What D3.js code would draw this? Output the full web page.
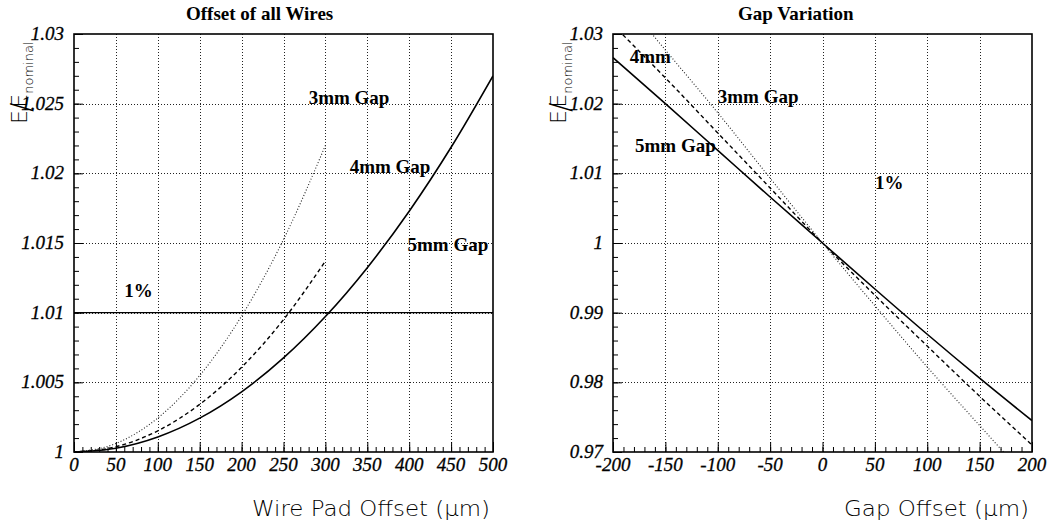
<!DOCTYPE html>
<html>
<head>
<meta charset="utf-8">
<script src="https://cdn.jsdelivr.net/npm/d3@7"></script>
<style>
  html, body { margin: 0; padding: 0; background: #fff; }
  svg { display: block; }
</style>
</head>
<body>
<svg id="chart" width="1049" height="525"></svg>
<script>
// ---- Left panel: field ratio vs. wire pad offset ----
const wireOffset = [0, 50, 100, 150, 200, 250, 300, 350, 400, 450, 500];
const wire5mm = [1.0000, 1.00027, 1.00108, 1.00243, 1.00432, 1.00675, 1.00972, 1.01323, 1.01728, 1.02187, 1.02700];
const wireOffsetShort = [0, 50, 100, 150, 200, 250, 300];
const wire4mm = [1.0000, 1.00038, 1.00152, 1.00342, 1.00608, 1.00950, 1.01370];
const wire3mm = [1.0000, 1.00061, 1.00244, 1.00549, 1.00976, 1.01525, 1.02200];
const onePercent = 1.01;

const leftXTicks = [0, 50, 100, 150, 200, 250, 300, 350, 400, 450, 500];
const leftYTicks = [1, 1.005, 1.01, 1.015, 1.02, 1.025, 1.03];
const leftYTickLabels = ["1", "1.005", "1.01", "1.015", "1.02", "1.025", "1.03"];

// ---- Right panel: field ratio vs. gap offset ----
const gapOffset = [-200, -150, -100, -50, 0, 50, 100, 150, 200];
const gap5mm = [1.0266, 1.0200, 1.0133, 1.0066, 1.0000, 0.9934, 0.9869, 0.9806, 0.9745];
const gap4mm = [1.0313, 1.0237, 1.0158, 1.0079, 1.0000, 0.9925, 0.9852, 0.9780, 0.9710];
const gap3mm = [1.0367, 1.0277, 1.0187, 1.0093, 1.0000, 0.9910, 0.9822, 0.9738, 0.9655];

const rightXTicks = [-200, -150, -100, -50, 0, 50, 100, 150, 200];
const rightYTicks = [0.97, 0.98, 0.99, 1, 1.01, 1.02, 1.03];
const rightYTickLabels = ["0.97", "0.98", "0.99", "1", "1.01", "1.02", "1.03"];

const SERIF = "Liberation Serif, Times New Roman, Times, serif";
const SANS = "DejaVu Sans, Liberation Sans, sans-serif";

const svg = d3.select("#chart");

const styles = {
  solid: { width: 1.6, dash: null, color: "#000" },
  dashed: { width: 1.4, dash: "4,3", color: "#000" },
  dotted: { width: 1.1, dash: "1,2", color: "#222" }
};

function serifText(sel, opts) {
  return sel
    .attr("font-family", SERIF)
    .attr("font-weight", opts.bold ? "bold" : "normal")
    .attr("font-style", opts.italic ? "italic" : "normal")
    .attr("font-size", opts.size)
    .attr("fill", "#000");
}

function panel(opts) {
  const g = svg.append("g");
  const x = d3.scaleLinear().domain(opts.xDomain).range([opts.left, opts.right]);
  const y = d3.scaleLinear().domain(opts.yDomain).range([opts.bottom, opts.top]);

  const clipId = "clip-" + opts.id;
  g.append("clipPath").attr("id", clipId)
    .append("rect")
    .attr("x", opts.left).attr("y", opts.top)
    .attr("width", opts.right - opts.left).attr("height", opts.bottom - opts.top);

  // dotted grid at major ticks
  const grid = g.append("g").attr("stroke", "#222").attr("stroke-width", 1).attr("stroke-dasharray", "1,2");
  grid.selectAll("line.gx").data(opts.xTicks.slice(1, -1)).join("line")
    .attr("x1", d => Math.round(x(d)) + 0.5).attr("x2", d => Math.round(x(d)) + 0.5)
    .attr("y1", opts.top).attr("y2", opts.bottom);
  grid.selectAll("line.gy").data(opts.yTicks.slice(1, -1)).join("line")
    .attr("y1", d => Math.round(y(d)) + 0.5).attr("y2", d => Math.round(y(d)) + 0.5)
    .attr("x1", opts.left).attr("x2", opts.right);

  // bottom axis, ticks pointing inward (labels drawn separately)
  const xMinor = d3.range(opts.xDomain[0], opts.xDomain[1] + 1e-9, (opts.xTicks[1] - opts.xTicks[0]) / 5);
  const noLabel = () => "";
  g.append("g").attr("transform", `translate(0,${opts.bottom})`)
    .call(d3.axisTop(x).tickValues(xMinor).tickSize(5).tickFormat(noLabel))
    .call(s => s.select(".domain").remove());
  g.append("g").attr("transform", `translate(0,${opts.bottom})`)
    .call(d3.axisTop(x).tickValues(opts.xTicks).tickSize(10).tickFormat(noLabel))
    .call(s => s.select(".domain").remove());

  // left axis, ticks pointing inward
  const yStep = (opts.yTicks[1] - opts.yTicks[0]) / 5;
  const yMinor = d3.range(0, 31).map(i => opts.yDomain[0] + i * yStep).filter(v => v <= opts.yDomain[1] + 1e-9);
  g.append("g").attr("transform", `translate(${opts.left},0)`)
    .call(d3.axisRight(y).tickValues(yMinor).tickSize(5).tickFormat(noLabel))
    .call(s => s.select(".domain").remove());
  g.append("g").attr("transform", `translate(${opts.left},0)`)
    .call(d3.axisRight(y).tickValues(opts.yTicks).tickSize(9).tickFormat(noLabel))
    .call(s => s.select(".domain").remove());

  // tick labels, italic serif
  const labels = g.append("g").attr("stroke", "#000").attr("stroke-width", 0.3);
  labels.selectAll("text").data(opts.xTicks).join("text")
    .attr("x", d => x(d)).attr("y", opts.bottom + 19)
    .attr("text-anchor", "middle")
    .call(serifText, { italic: true, size: 19 })
    .text(d => String(d));
  const ylabels = g.append("g").attr("stroke", "#000").attr("stroke-width", 0.3);
  ylabels.selectAll("text").data(opts.yTicks).join("text")
    .attr("x", opts.left - 10).attr("y", d => y(d) + 6)
    .attr("text-anchor", "end")
    .call(serifText, { italic: true, size: 19 })
    .text((d, i) => opts.yTickLabels[i]);

  // curves
  const plot = g.append("g").attr("clip-path", `url(#${clipId})`);
  opts.series.forEach(s => {
    const st = styles[s.style];
    const line = d3.line().x(d => x(d[0])).y(d => y(d[1])).curve(d3.curveMonotoneX);
    plot.append("path")
      .attr("d", line(d3.zip(s.xs, s.ys)))
      .attr("fill", "none")
      .attr("stroke", st.color)
      .attr("stroke-width", st.width)
      .attr("stroke-dasharray", st.dash);
  });

  if (opts.refLine !== undefined) {
    plot.append("line")
      .attr("x1", opts.left).attr("x2", opts.right)
      .attr("y1", y(opts.refLine)).attr("y2", y(opts.refLine))
      .attr("stroke", "#000").attr("stroke-width", 1.2);
  }

  // frame
  g.append("rect")
    .attr("x", opts.left).attr("y", opts.top)
    .attr("width", opts.right - opts.left).attr("height", opts.bottom - opts.top)
    .attr("fill", "none").attr("stroke", "#000").attr("stroke-width", 1.6);

  // annotations
  opts.notes.forEach(n => {
    g.append("text")
      .attr("x", x(n.x)).attr("y", y(n.y))
      .call(serifText, { bold: true, size: 19 })
      .text(n.text);
  });

  // titles
  g.append("text")
    .attr("x", opts.titleX).attr("y", 20)
    .call(serifText, { bold: true, size: 19 })
    .text(opts.title);

  g.append("text")
    .attr("x", opts.right - 3).attr("y", 516)
    .attr("text-anchor", "end")
    .attr("font-family", SANS).attr("font-weight", 200).attr("font-size", 21)
    .attr("fill", "#000")
    .attr("textLength", opts.xTitleWidth).attr("lengthAdjust", "spacingAndGlyphs")
    .text(opts.xTitle);

  const yt = g.append("text")
    .attr("font-family", SANS).attr("font-weight", 200).attr("font-size", 22)
    .attr("fill", "#000")
    .attr("transform", `translate(${opts.left - 47},124) rotate(-90)`);
  yt.append("tspan").text("E");
  yt.append("tspan").attr("font-size", 28).attr("dx", -2).attr("dy", 4).text("/");
  yt.append("tspan").attr("dx", -5).attr("dy", -4).text("E");
  yt.append("tspan").attr("font-size", 13).attr("dy", 6).text("nominal");

  return { x, y };
}

panel({
  id: "wire",
  left: 74, right: 493, top: 34, bottom: 452,
  xDomain: [0, 500], yDomain: [1, 1.03],
  xTicks: leftXTicks, yTicks: leftYTicks, yTickLabels: leftYTickLabels,
  series: [
    { xs: wireOffset, ys: wire5mm, style: "solid" },
    { xs: wireOffsetShort, ys: wire4mm, style: "dashed" },
    { xs: wireOffsetShort, ys: wire3mm, style: "dotted" }
  ],
  refLine: onePercent,
  notes: [
    { x: 280, y: 1.025, text: "3mm Gap" },
    { x: 329, y: 1.02, text: "4mm Gap" },
    { x: 398, y: 1.0144, text: "5mm Gap" },
    { x: 60, y: 1.0111, text: "1%" }
  ],
  title: "Offset of all Wires", titleX: 186,
  xTitle: "Wire Pad Offset (\u03bcm)", xTitleWidth: 238
});

panel({
  id: "gap",
  left: 613, right: 1032, top: 34, bottom: 452,
  xDomain: [-200, 200], yDomain: [0.97, 1.03],
  xTicks: rightXTicks, yTicks: rightYTicks, yTickLabels: rightYTickLabels,
  series: [
    { xs: gapOffset, ys: gap5mm, style: "solid" },
    { xs: gapOffset, ys: gap4mm, style: "dashed" },
    { xs: gapOffset, ys: gap3mm, style: "dotted" }
  ],
  notes: [
    { x: -184, y: 1.0259, text: "4mm" },
    { x: -100, y: 1.0201, text: "3mm Gap" },
    { x: -179, y: 1.0131, text: "5mm Gap" },
    { x: 50, y: 1.0077, text: "1%" }
  ],
  title: "Gap Variation", titleX: 738,
  xTitle: "Gap Offset (\u03bcm)", xTitleWidth: 185
});
</script>
</body>
</html>
